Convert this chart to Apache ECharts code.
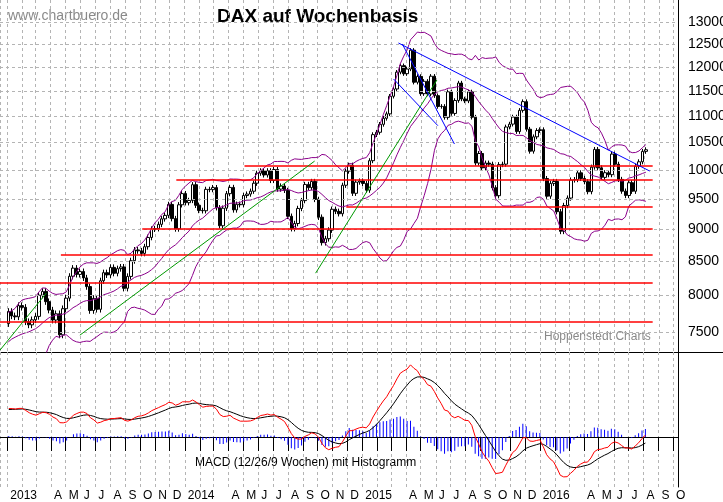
<!DOCTYPE html>
<html>
<head>
<meta charset="utf-8">
<script src="https://cdn.jsdelivr.net/npm/echarts@6/dist/echarts.min.js"></script>
<style>
  html, body { margin: 0; padding: 0; background: #fff; }
  #chart { width: 723px; height: 502px; }
</style>
</head>
<body>
<div id="chart"></div>
<script>
// weekly closes of 2012 (only used to warm up the indicators)
const warmupCloses = [6050, 6130, 6150, 6230, 6130, 6420, 6410, 6550, 6630, 6690, 6780, 6870, 6950, 6940,
  6970, 7210, 7410, 7450, 7320, 7330, 7230, 7290, 7330, 7230, 7100, 7100, 7280, 7400, 7520, 7530, 7610, 7620, 7610];

// weekly closes, first week 2013-01-04
const closes = [
  7776, 7715, 7702, 7857,
  7833, 7635, 7593, 7661,
  7708, 8004, 8058, 7913, 7795,
  7658, 7744, 7459, 7814,
  7962, 8278, 8399, 8305, 8348,
  8254, 8127, 7789, 7959,
  7806, 8212, 8331, 8298,
  8410, 8322, 8391, 8416, 8103,
  8276, 8510, 8675, 8661,
  8622, 8725, 8870, 9001,
  9010, 9079, 9168, 9225, 9406,
  9172, 9006, 9400, 9589,
  9435, 9473, 9742, 9392, 9306,
  9301, 9662, 9657, 9692,
  9351, 9056, 9343, 9588,
  9695, 9315, 9409, 9401,
  9556, 9581, 9630, 9768, 9943,
  9987, 9912, 9987, 9815,
  10009, 9666, 9720, 9644,
  9210, 9010, 9092, 9339, 9470,
  9747, 9691, 9799, 9490,
  9195, 8788, 8850, 8987, 9326,
  9291, 9252, 9732, 9980,
  10087, 9594, 9787, 9806,
  9764, 9648, 10167, 10649, 10694,
  10846, 10963, 11050, 11401,
  11550, 11901, 12039, 11868,
  11967, 12375, 11689, 11811,
  11454, 11709, 11447, 11815, 11413,
  11197, 11197, 10982, 11492,
  11058, 11316, 11673, 11347, 11308,
  11490, 10985, 10124, 10298,
  10038, 10124, 10104, 9688,
  9553, 10096, 10104, 10795, 10850,
  10988, 10708, 11119, 11293,
  10752, 10340, 10608, 10727, 10743,
  9849, 9545, 9765, 9798,
  9286, 8967, 9388, 9513,
  9824, 9831, 9950, 9851,
  9794, 9622, 10051, 10373, 10039,
  9870, 9952, 9917, 10287,
  10103, 9834, 9631, 9557,
  9776, 9629, 10067, 10147, 10337,
  10367
];

const priceTicks = [7500, 8000, 8500, 9000, 9500, 10000, 10500, 11000, 11500, 12000, 12500, 13000];
const macdTicks = [0, 500];

// support / resistance lines: [start, end, level]
const levels = [
  ['2014-05-04', '2016-08-19', 10070],
  ['2013-12-15', '2016-08-19', 9822],
  ['2014-11-29', '2016-08-19', 9364],
  ['2013-10-06', '2016-08-19', 9013],
  ['2013-04-22', '2016-08-19', 8600],
  ['2012-12-18', '2016-08-19', 8180],
  ['2012-12-18', '2016-08-19', 7630]
];
// trend lines: [start, v1, end, v2]
const greenLines = [
  ['2012-12-18', 7259, '2013-03-23', 8033],
  ['2013-05-31', 7455, '2014-09-25', 10160],
  ['2014-09-27', 8324, '2015-06-03', 11735]
];
const blueLines = [
  ['2015-03-16', 12534, '2016-08-13', 9981],
  ['2015-03-24', 12512, '2015-07-09', 10473],
  ['2015-03-06', 11757, '2015-06-05', 10820]
];

const day = 86400000;
const t0 = Date.UTC(2013, 0, 4);
const dates = closes.map((c, i) => t0 + i * 7 * day);

const all = warmupCloses.concat(closes);
const off = warmupCloses.length;

const candles = closes.map((c, i) => {
  const o = all[off + i - 1];
  return [dates[i], o, c, Math.min(o, c) - 45, Math.max(o, c) + 45];
});

// Bollinger 20 / 2
const upper = [], middle = [], lower = [];
closes.forEach((c, i) => {
  const w = all.slice(off + i - 19, off + i + 1);
  const m = w.reduce((a, b) => a + b, 0) / w.length;
  const sd = Math.sqrt(w.reduce((a, b) => a + (b - m) * (b - m), 0) / w.length);
  upper.push([dates[i], m + 2 * sd]);
  middle.push([dates[i], m]);
  lower.push([dates[i], m - 2 * sd]);
});

// MACD 12/26/9
function ema(arr, n) {
  const k = 2 / (n + 1);
  const out = [arr[0]];
  for (let i = 1; i < arr.length; i++) out.push(arr[i] * k + out[i - 1] * (1 - k));
  return out;
}
const e12 = ema(all, 12), e26 = ema(all, 26);
const macdAll = e12.map((v, i) => v - e26[i]);
const sigAll = ema(macdAll, 9);
const macd = closes.map((c, i) => [dates[i], macdAll[off + i]]);
const signal = closes.map((c, i) => [dates[i], sigAll[off + i]]);
const hist = closes.map((c, i) => [dates[i], macdAll[off + i] - sigAll[off + i]]);

const xMin = Date.UTC(2012, 11, 18);
const xMax = Date.UTC(2016, 9, 10);
const monthLetters = 'JFMAMJJASOND';

const segs = (list) => list.map(l => [
  { coord: [Date.parse(l[0]), l[1]] },
  { coord: [Date.parse(l[2]), l[3]] }
]);

const chart = echarts.init(document.getElementById('chart'));
chart.setOption({
  backgroundColor: '#fff',
  animation: false,
  textStyle: { fontFamily: 'Liberation Sans' },
  graphic: [
    { type: 'text', left: 8, top: 9, style: { text: 'www.chartbuero.de', fill: '#8a8a8a', font: '14px Liberation Sans' } },
    { type: 'text', left: 217, top: 7, style: { text: 'DAX auf Wochenbasis', fill: '#000', font: 'bold 19px Liberation Sans' } },
    { type: 'text', left: 544, top: 331, style: { text: 'Hoppenstedt Charts', fill: '#8a8a8a', font: '12px Liberation Sans' } },
    { type: 'text', left: 195, top: 457, style: { text: 'MACD (12/26/9 Wochen) mit Histogramm', fill: '#000', font: '12px Liberation Sans' } },
    { type: 'line', shape: { x1: 0, y1: 352.5, x2: 723, y2: 352.5 }, style: { stroke: '#000', lineWidth: 1 } }
  ],
  grid: [
    { left: 0, top: 0, width: 678, height: 352 },
    { left: 0, top: 352, width: 678, height: 135 }
  ],
  xAxis: [
    {
      type: 'time', gridIndex: 0, min: xMin, max: xMax, splitNumber: 46, maxInterval: 31 * day,
      axisLine: { show: false }, axisTick: { show: false }, axisLabel: { show: false },
      splitLine: { show: true, lineStyle: { color: '#b4b4b4', type: [3, 3] } }
    },
    {
      type: 'time', gridIndex: 1, min: xMin, max: xMax, splitNumber: 46, maxInterval: 31 * day,
      axisLine: { show: true, lineStyle: { color: '#000' } },
      axisTick: { show: true, length: 14, lineStyle: { color: '#000' } },
      splitLine: { show: true, lineStyle: { color: '#b4b4b4', type: [3, 3] } },
      axisLabel: {
        show: true, color: '#000', fontSize: 12, align: 'left', padding: [0, 0, 0, 3],
        hideOverlap: false, margin: 3,
        formatter: (v) => {
          const d = new Date(v);
          const m = d.getUTCMonth();
          if (m === 0) return String(d.getUTCFullYear());
          if (m === 1 || m === 2) return '';
          return monthLetters[m];
        }
      }
    }
  ],
  yAxis: [
    {
      type: 'log', gridIndex: 0, min: 7235, max: 13530, position: 'right',
      axisLine: { show: true, lineStyle: { color: '#000' } },
      axisTick: { show: false }, axisLabel: { show: false }, splitLine: { show: false }
    },
    {
      type: 'value', gridIndex: 1, min: -463, max: 787, position: 'right',
      axisLine: { show: true, lineStyle: { color: '#000' } },
      axisTick: { show: false }, axisLabel: { show: false }, splitLine: { show: false }
    }
  ],
  series: [
    {
      type: 'line', xAxisIndex: 0, yAxisIndex: 0, data: [], silent: true,
      markLine: {
        symbol: 'none', silent: true,
        lineStyle: { color: '#b4b4b4', type: [3, 3], width: 1 },
        label: { show: true, position: 'end', distance: 10, color: '#000', fontSize: 14 },
        data: priceTicks.map(t => ({ yAxis: t, label: { formatter: String(t) } }))
      }
    },
    {
      type: 'line', xAxisIndex: 0, yAxisIndex: 0, data: [], silent: true,
      markLine: {
        symbol: 'none', silent: true, label: { show: false },
        lineStyle: { color: '#ff0000', type: 'solid', width: 1.5 },
        data: segs(levels.map(l => [l[0], l[2], l[1], l[2]]))
      }
    },
    {
      type: 'line', xAxisIndex: 0, yAxisIndex: 0, data: [], silent: true,
      markLine: {
        symbol: 'none', silent: true, label: { show: false },
        lineStyle: { color: '#009900', type: 'solid', width: 1 },
        data: segs(greenLines)
      }
    },
    {
      type: 'line', xAxisIndex: 0, yAxisIndex: 0, data: [], silent: true,
      markLine: {
        symbol: 'none', silent: true, label: { show: false },
        lineStyle: { color: '#0000ff', type: 'solid', width: 1 },
        data: segs(blueLines)
      }
    },
    { type: 'line', xAxisIndex: 0, yAxisIndex: 0, data: upper, showSymbol: false, lineStyle: { color: '#8b008b', width: 1 } },
    { type: 'line', xAxisIndex: 0, yAxisIndex: 0, data: middle, showSymbol: false, lineStyle: { color: '#8b008b', width: 1 } },
    { type: 'line', xAxisIndex: 0, yAxisIndex: 0, data: lower, showSymbol: false, lineStyle: { color: '#8b008b', width: 1 } },
    {
      type: 'candlestick', xAxisIndex: 0, yAxisIndex: 0, data: candles, barWidth: 3,
      itemStyle: { color: '#fff', color0: '#000', borderColor: '#000', borderColor0: '#000', borderWidth: 1 }
    },
    {
      type: 'line', xAxisIndex: 1, yAxisIndex: 1, data: [], silent: true,
      markLine: {
        symbol: 'none', silent: true, lineStyle: { opacity: 0 },
        label: { show: true, position: 'end', distance: 14, color: '#000', fontSize: 13 },
        data: macdTicks.map(t => ({ yAxis: t, label: { formatter: String(t) } }))
      }
    },
    { type: 'bar', xAxisIndex: 1, yAxisIndex: 1, data: hist, barWidth: 1, itemStyle: { color: '#0000ff' } },
    { type: 'line', xAxisIndex: 1, yAxisIndex: 1, data: signal, showSymbol: false, lineStyle: { color: '#000', width: 1 } },
    { type: 'line', xAxisIndex: 1, yAxisIndex: 1, data: macd, showSymbol: false, lineStyle: { color: '#ff0000', width: 1 } }
  ]
});
</script>
</body>
</html>
